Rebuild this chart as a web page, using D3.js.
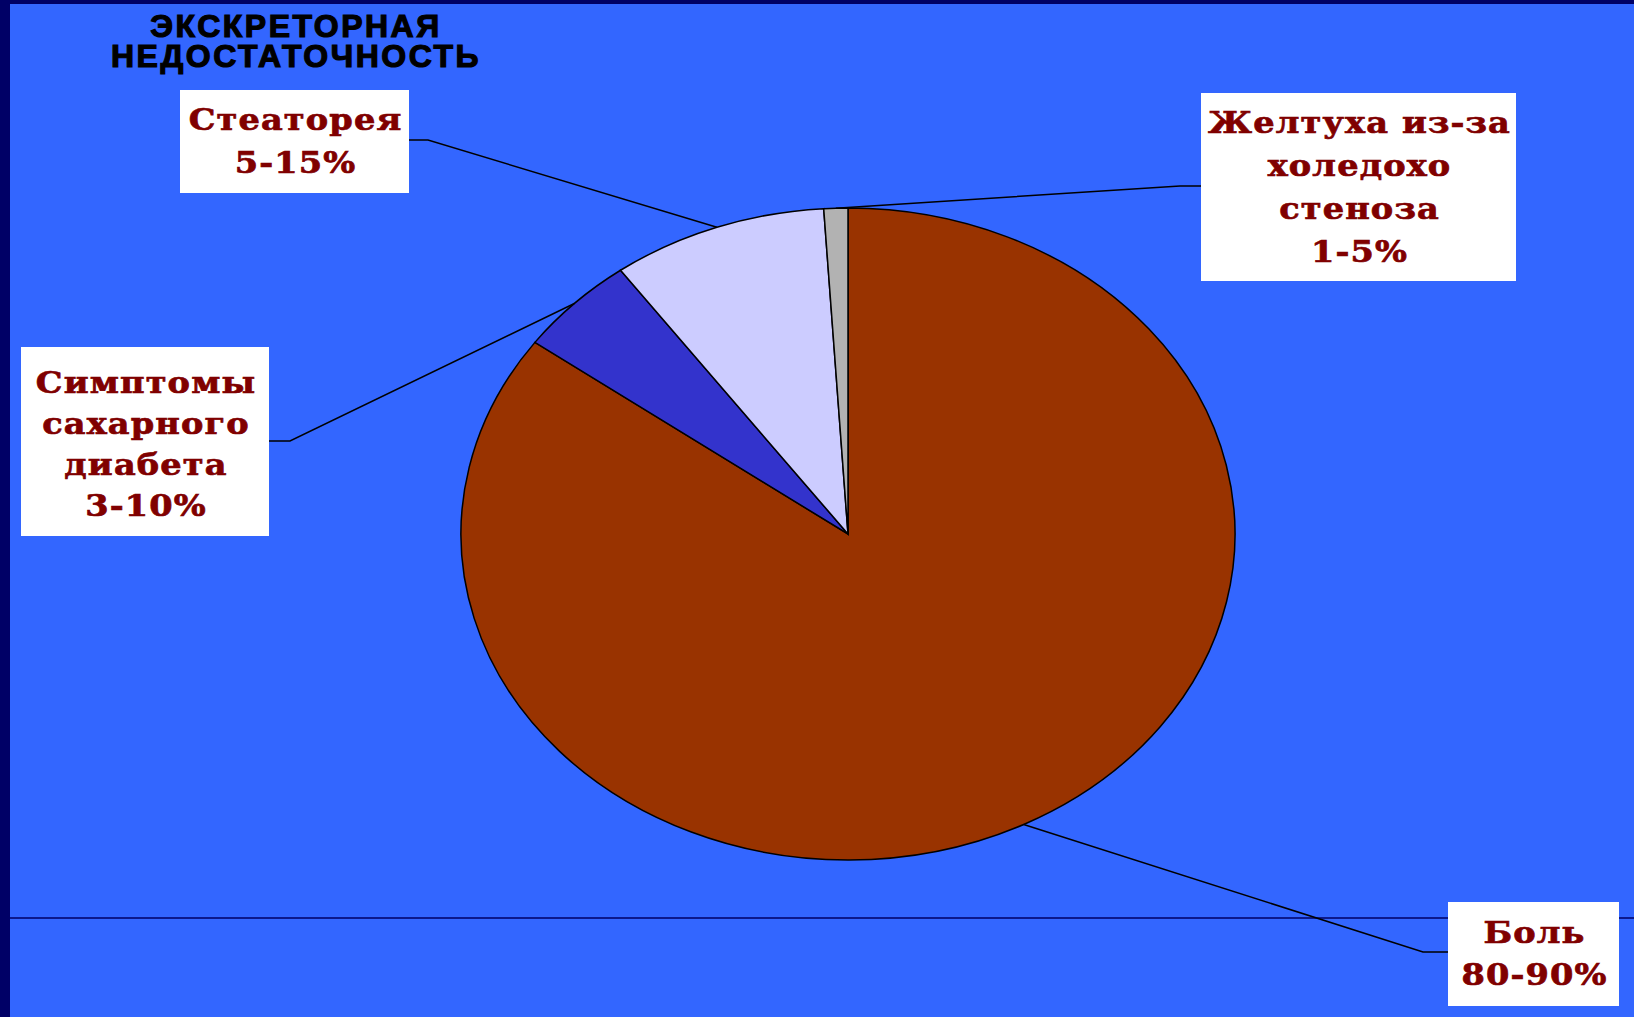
<!DOCTYPE html>
<html>
<head>
<meta charset="utf-8">
<script src="https://cdn.jsdelivr.net/npm/d3@7"></script>
<style>
  body { margin: 0; background: #3366FF; }
  svg { display: block; }
  .slice { stroke: #000; stroke-width: 1.5px; vector-effect: non-scaling-stroke; }
  .leader { fill: none; stroke: #000; stroke-width: 1.5px; }
  .lbl { font-family: "DejaVu Serif", serif; font-weight: bold; font-size: 30px; letter-spacing: 1px;
         fill: #800000; stroke: #800000; stroke-width: 0.7px; text-anchor: middle; }
  .title { font-family: "Liberation Sans", Arial, sans-serif; font-weight: bold; font-size: 32px; letter-spacing: 2.5px;
           fill: #000; stroke: #000; stroke-width: 1.2px; text-anchor: middle; }
</style>
</head>
<body>
<div id="chart"></div>
<script>
// --- data ---
const categories = ["Боль", "Симптомы сахарного диабета", "Стеаторея", "Желтуха из-за холедохостеноза"];
const values = [85, 5, 9, 1];
const labelLines = [
    ["Боль", "80-90%"],
    ["Симптомы", "сахарного", "диабета", "3-10%"],
    ["Стеаторея", "5-15%"],
    ["Желтуха из-за", "холедохо", "стеноза", "1-5%"]
];
const sliceColors = ["#993300", "#3333CC", "#CCCCFF", "#B2B2B2"];
const titleLines = ["ЭКСКРЕТОРНАЯ", "НЕДОСТАТОЧНОСТЬ"];

// --- layout ---
const W = 1634, H = 1017;
const cx = 848, cy = 534, rx = 387, ry = 326;
const labelStretch = 1.12; // brede serif-letters (Bookman-achtig)

// label boxes: x, y, w, h, elbow point, first baseline, line height
const boxes = [
    {x: 1448, y: 902, w: 171, h: 104, ex: 1423, ey: 952, b0: 943, lh: 42},
    {x: 21,   y: 347, w: 248, h: 189, ex: 290,  ey: 441, b0: 393, lh: 41},
    {x: 180,  y: 90,  w: 229, h: 103, ex: 428,  ey: 140, b0: 130, lh: 43},
    {x: 1201, y: 93,  w: 315, h: 188, ex: 1180, ey: 186, b0: 133, lh: 43}
];

const svg = d3.select("#chart").append("svg")
    .attr("width", W).attr("height", H);

// achtergrond
svg.append("rect").attr("width", W).attr("height", H).attr("fill", "#3366FF");
svg.append("rect").attr("width", 10).attr("height", H).attr("fill", "#000066");
svg.append("rect").attr("width", W).attr("height", 4).attr("fill", "#000066");
svg.append("line")
    .attr("x1", 10).attr("x2", W).attr("y1", 918).attr("y2", 918)
    .attr("stroke", "#000066").attr("stroke-width", 1.5);

// titel
svg.append("g").selectAll("text").data(titleLines).enter().append("text")
    .attr("class", "title")
    .attr("x", 296)
    .attr("y", (d, i) => 37 + i * 30)
    .text(d => d);

// pie (ellips)
const pie = d3.pie().sort(null).value(d => d);
const arcs = pie(values);
const arc = d3.arc().innerRadius(0).outerRadius(ry);

svg.append("g")
    .attr("transform", `translate(${cx},${cy}) scale(${rx / ry},1)`)
    .selectAll("path").data(arcs).enter().append("path")
    .attr("class", "slice")
    .attr("fill", (d, i) => sliceColors[i])
    .attr("d", arc);

// leader lines: van de rand van het segment naar de knik en het label
function edgePoint(a) {
    const m = (a.startAngle + a.endAngle) / 2;
    return [cx + rx * Math.sin(m), cy - ry * Math.cos(m)];
}

svg.append("g").selectAll("polyline").data(arcs).enter().append("polyline")
    .attr("class", "leader")
    .attr("points", (d, i) => {
        const b = boxes[i];
        const p = edgePoint(d);
        const bx = b.ex > b.x ? b.x + b.w : b.x;
        return [p, [b.ex, b.ey], [bx, b.ey]].map(q => q.join(",")).join(" ");
    });

// labels
const lbl = svg.append("g").selectAll("g").data(categories).enter().append("g");
lbl.append("rect")
    .attr("x", (d, i) => boxes[i].x).attr("y", (d, i) => boxes[i].y)
    .attr("width", (d, i) => boxes[i].w).attr("height", (d, i) => boxes[i].h)
    .attr("fill", "#fff");
lbl.each(function(d, i) {
    const b = boxes[i];
    d3.select(this).selectAll("text").data(labelLines[i]).enter().append("text")
        .attr("class", "lbl")
        .attr("transform", (t, j) => `translate(${b.x + b.w / 2 + 1},${b.b0 + j * b.lh}) scale(${labelStretch},1)`)
        .text(t => t);
});
</script>
</body>
</html>
